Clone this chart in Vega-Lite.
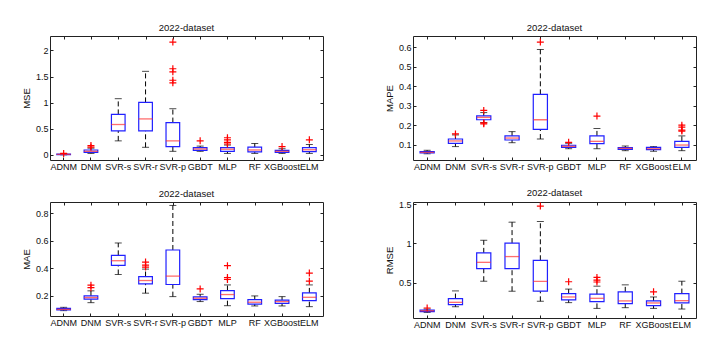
{
  "$schema": "https://vega.github.io/schema/vega-lite/v6.json",
  "background": "white",
  "padding": {"left": 20, "top": 22, "right": 5, "bottom": 5},
  "datasets": {
    "mse": [
      {"model": "ADNM", "lo": 0.003, "q1": 0.008, "med": 0.012, "q3": 0.018, "hi": 0.025},
      {"model": "DNM", "lo": 0.03, "q1": 0.05, "med": 0.07, "q3": 0.095, "hi": 0.13},
      {"model": "SVR-s", "lo": 0.27, "q1": 0.46, "med": 0.583, "q3": 0.776, "hi": 1.077},
      {"model": "SVR-r", "lo": 0.147, "q1": 0.46, "med": 0.69, "q3": 1.006, "hi": 1.6},
      {"model": "SVR-p", "lo": 0.07, "q1": 0.16, "med": 0.27, "q3": 0.62, "hi": 0.885},
      {"model": "GBDT", "lo": 0.07, "q1": 0.09, "med": 0.115, "q3": 0.14, "hi": 0.17},
      {"model": "MLP", "lo": 0.03, "q1": 0.07, "med": 0.11, "q3": 0.14, "hi": 0.19},
      {"model": "RF", "lo": 0.03, "q1": 0.06, "med": 0.096, "q3": 0.15, "hi": 0.22},
      {"model": "XGBoost", "lo": 0.03, "q1": 0.05, "med": 0.07, "q3": 0.09, "hi": 0.12},
      {"model": "ELM", "lo": 0.03, "q1": 0.064, "med": 0.1, "q3": 0.14, "hi": 0.2}
    ],
    "mse_o": [
      {"model": "ADNM", "v": 0.03},
      {"model": "DNM", "v": 0.15}, {"model": "DNM", "v": 0.18},
      {"model": "SVR-p", "v": 2.16}, {"model": "SVR-p", "v": 1.65}, {"model": "SVR-p", "v": 1.59}, {"model": "SVR-p", "v": 1.43}, {"model": "SVR-p", "v": 1.38},
      {"model": "GBDT", "v": 0.27},
      {"model": "MLP", "v": 0.33}, {"model": "MLP", "v": 0.29}, {"model": "MLP", "v": 0.24}, {"model": "MLP", "v": 0.21},
      {"model": "XGBoost", "v": 0.16},
      {"model": "ELM", "v": 0.29}
    ],
    "mape": [
      {"model": "ADNM", "lo": 0.053, "q1": 0.057, "med": 0.06, "q3": 0.064, "hi": 0.071},
      {"model": "DNM", "lo": 0.09, "q1": 0.107, "med": 0.119, "q3": 0.129, "hi": 0.15},
      {"model": "SVR-s", "lo": 0.214, "q1": 0.228, "med": 0.24, "q3": 0.248, "hi": 0.265},
      {"model": "SVR-r", "lo": 0.11, "q1": 0.124, "med": 0.134, "q3": 0.145, "hi": 0.167},
      {"model": "SVR-p", "lo": 0.129, "q1": 0.179, "med": 0.228, "q3": 0.359, "hi": 0.59},
      {"model": "GBDT", "lo": 0.079, "q1": 0.086, "med": 0.091, "q3": 0.097, "hi": 0.107},
      {"model": "MLP", "lo": 0.079, "q1": 0.105, "med": 0.117, "q3": 0.145, "hi": 0.183},
      {"model": "RF", "lo": 0.069, "q1": 0.076, "med": 0.081, "q3": 0.085, "hi": 0.093},
      {"model": "XGBoost", "lo": 0.066, "q1": 0.074, "med": 0.079, "q3": 0.086, "hi": 0.09},
      {"model": "ELM", "lo": 0.069, "q1": 0.086, "med": 0.098, "q3": 0.117, "hi": 0.145}
    ],
    "mape_o": [
      {"model": "DNM", "v": 0.155},
      {"model": "SVR-s", "v": 0.276}, {"model": "SVR-s", "v": 0.207}, {"model": "SVR-s", "v": 0.212},
      {"model": "SVR-p", "v": 0.628},
      {"model": "GBDT", "v": 0.112},
      {"model": "MLP", "v": 0.247},
      {"model": "ELM", "v": 0.2}, {"model": "ELM", "v": 0.19}, {"model": "ELM", "v": 0.175}, {"model": "ELM", "v": 0.17}
    ],
    "mae": [
      {"model": "ADNM", "lo": 0.093, "q1": 0.098, "med": 0.102, "q3": 0.11, "hi": 0.117},
      {"model": "DNM", "lo": 0.151, "q1": 0.176, "med": 0.188, "q3": 0.2, "hi": 0.237},
      {"model": "SVR-s", "lo": 0.356, "q1": 0.422, "med": 0.456, "q3": 0.495, "hi": 0.585},
      {"model": "SVR-r", "lo": 0.22, "q1": 0.288, "med": 0.312, "q3": 0.341, "hi": 0.395},
      {"model": "SVR-p", "lo": 0.195, "q1": 0.283, "med": 0.344, "q3": 0.534, "hi": 0.858},
      {"model": "GBDT", "lo": 0.159, "q1": 0.173, "med": 0.183, "q3": 0.193, "hi": 0.212},
      {"model": "MLP", "lo": 0.129, "q1": 0.18, "med": 0.21, "q3": 0.239, "hi": 0.28},
      {"model": "RF", "lo": 0.127, "q1": 0.141, "med": 0.154, "q3": 0.173, "hi": 0.2},
      {"model": "XGBoost", "lo": 0.127, "q1": 0.146, "med": 0.159, "q3": 0.17, "hi": 0.195},
      {"model": "ELM", "lo": 0.122, "q1": 0.166, "med": 0.19, "q3": 0.222, "hi": 0.28}
    ],
    "mae_o": [
      {"model": "DNM", "v": 0.278}, {"model": "DNM", "v": 0.26},
      {"model": "SVR-r", "v": 0.446}, {"model": "SVR-r", "v": 0.424}, {"model": "SVR-r", "v": 0.41},
      {"model": "GBDT", "v": 0.251},
      {"model": "MLP", "v": 0.42}, {"model": "MLP", "v": 0.334}, {"model": "MLP", "v": 0.32},
      {"model": "ELM", "v": 0.366}, {"model": "ELM", "v": 0.307}
    ],
    "rmse": [
      {"model": "ADNM", "lo": 0.124, "q1": 0.133, "med": 0.145, "q3": 0.154, "hi": 0.167},
      {"model": "DNM", "lo": 0.196, "q1": 0.222, "med": 0.252, "q3": 0.3, "hi": 0.397},
      {"model": "SVR-s", "lo": 0.52, "q1": 0.68, "med": 0.76, "q3": 0.88, "hi": 1.04},
      {"model": "SVR-r", "lo": 0.393, "q1": 0.68, "med": 0.833, "q3": 1.004, "hi": 1.27},
      {"model": "SVR-p", "lo": 0.265, "q1": 0.393, "med": 0.517, "q3": 0.786, "hi": 1.278},
      {"model": "GBDT", "lo": 0.248, "q1": 0.282, "med": 0.32, "q3": 0.363, "hi": 0.42},
      {"model": "MLP", "lo": 0.175, "q1": 0.26, "med": 0.303, "q3": 0.355, "hi": 0.457},
      {"model": "RF", "lo": 0.184, "q1": 0.235, "med": 0.27, "q3": 0.385, "hi": 0.474},
      {"model": "XGBoost", "lo": 0.175, "q1": 0.21, "med": 0.244, "q3": 0.27, "hi": 0.32},
      {"model": "ELM", "lo": 0.167, "q1": 0.244, "med": 0.273, "q3": 0.363, "hi": 0.52}
    ],
    "rmse_o": [
      {"model": "ADNM", "v": 0.18},
      {"model": "SVR-p", "v": 1.474},
      {"model": "GBDT", "v": 0.513},
      {"model": "MLP", "v": 0.568}, {"model": "MLP", "v": 0.534}, {"model": "MLP", "v": 0.51},
      {"model": "XGBoost", "v": 0.385}
    ]
  },
  "concat": [
    {
      "width": 273, "height": 124, "title": "2022-dataset",
      "data": {"name": "mse"},
      "resolve": {"scale": {"x": "independent", "y": "independent"}, "axis": {"x": "independent", "y": "independent"}},
      "layer": [
        {
          "encoding": {"x": {"field": "model", "type": "nominal", "sort": null, "title": null, "scale": {"domain": ["ADNM","DNM","SVR-s","SVR-r","SVR-p","GBDT","MLP","RF","XGBoost","ELM"], "paddingInner": 0, "paddingOuter": 0}, "axis": {"labelAngle": 0}}},
          "layer": [
            {"mark": {"type": "rule", "color": "black", "strokeDash": [5, 3]}, "encoding": {"y": {"field": "lo", "type": "quantitative", "scale": {"domain": [-0.096, 2.276], "nice": false, "zero": false}, "axis": {"title": "MSE", "values": [0, 0.5, 1, 1.5, 2], "format": "~g"}}, "y2": {"field": "q1"}}},
            {"mark": {"type": "rule", "color": "black", "strokeDash": [5, 3]}, "encoding": {"y": {"field": "q3", "type": "quantitative", "scale": {"domain": [-0.096, 2.276], "nice": false, "zero": false}, "axis": {"title": "MSE", "values": [0, 0.5, 1, 1.5, 2], "format": "~g"}}, "y2": {"field": "hi"}}},
            {"mark": {"type": "tick", "color": "black", "size": 7, "thickness": 1}, "encoding": {"y": {"field": "lo", "type": "quantitative", "scale": {"domain": [-0.096, 2.276], "nice": false, "zero": false}, "axis": {"title": "MSE", "values": [0, 0.5, 1, 1.5, 2], "format": "~g"}}}},
            {"mark": {"type": "tick", "color": "black", "size": 7, "thickness": 1}, "encoding": {"y": {"field": "hi", "type": "quantitative", "scale": {"domain": [-0.096, 2.276], "nice": false, "zero": false}, "axis": {"title": "MSE", "values": [0, 0.5, 1, 1.5, 2], "format": "~g"}}}},
            {"mark": {"type": "bar", "width": {"band": 0.5}, "fill": "white", "fillOpacity": 0, "stroke": "#2020ff", "strokeWidth": 1.2}, "encoding": {"y": {"field": "q1", "type": "quantitative", "scale": {"domain": [-0.096, 2.276], "nice": false, "zero": false}, "axis": {"title": "MSE", "values": [0, 0.5, 1, 1.5, 2], "format": "~g"}}, "y2": {"field": "q3"}}},
            {"mark": {"type": "tick", "color": "#ff3030", "size": 14, "thickness": 1.3}, "encoding": {"y": {"field": "med", "type": "quantitative", "scale": {"domain": [-0.096, 2.276], "nice": false, "zero": false}, "axis": {"title": "MSE", "values": [0, 0.5, 1, 1.5, 2], "format": "~g"}}}},
            {"data": {"name": "mse_o"}, "mark": {"type": "point", "shape": "M-1,0L1,0M0,-1L0,1", "size": 49, "filled": false, "stroke": "red", "strokeWidth": 1.2, "opacity": 1}, "encoding": {"y": {"field": "v", "type": "quantitative", "scale": {"domain": [-0.096, 2.276], "nice": false, "zero": false}, "axis": {"title": "MSE", "values": [0, 0.5, 1, 1.5, 2], "format": "~g"}}}}
          ]
        },
        {"mark": {"type": "point", "opacity": 0}, "encoding": {"x": {"field": "model", "type": "nominal", "sort": null, "scale": {"domain": ["ADNM","DNM","SVR-s","SVR-r","SVR-p","GBDT","MLP","RF","XGBoost","ELM"], "paddingInner": 0, "paddingOuter": 0}, "axis": {"orient": "top", "labels": false, "title": null}}, "y": {"field": "med", "type": "quantitative", "scale": {"domain": [-0.096, 2.276], "nice": false, "zero": false}, "axis": {"orient": "right", "labels": false, "title": null, "values": [0, 0.5, 1, 1.5, 2]}}}}
      ]
    },
    {
      "width": 283, "height": 124, "title": "2022-dataset",
      "data": {"name": "mape"},
      "resolve": {"scale": {"x": "independent", "y": "independent"}, "axis": {"x": "independent", "y": "independent"}},
      "layer": [
        {
          "encoding": {"x": {"field": "model", "type": "nominal", "sort": null, "title": null, "scale": {"domain": ["ADNM","DNM","SVR-s","SVR-r","SVR-p","GBDT","MLP","RF","XGBoost","ELM"], "paddingInner": 0, "paddingOuter": 0}, "axis": {"labelAngle": 0}}},
          "layer": [
            {"mark": {"type": "rule", "color": "black", "strokeDash": [5, 3]}, "encoding": {"y": {"field": "lo", "type": "quantitative", "scale": {"domain": [0.021, 0.659], "nice": false, "zero": false}, "axis": {"title": "MAPE", "values": [0.1, 0.2, 0.3, 0.4, 0.5, 0.6], "format": "~g"}}, "y2": {"field": "q1"}}},
            {"mark": {"type": "rule", "color": "black", "strokeDash": [5, 3]}, "encoding": {"y": {"field": "q3", "type": "quantitative", "scale": {"domain": [0.021, 0.659], "nice": false, "zero": false}, "axis": {"title": "MAPE", "values": [0.1, 0.2, 0.3, 0.4, 0.5, 0.6], "format": "~g"}}, "y2": {"field": "hi"}}},
            {"mark": {"type": "tick", "color": "black", "size": 7, "thickness": 1}, "encoding": {"y": {"field": "lo", "type": "quantitative", "scale": {"domain": [0.021, 0.659], "nice": false, "zero": false}, "axis": {"title": "MAPE", "values": [0.1, 0.2, 0.3, 0.4, 0.5, 0.6], "format": "~g"}}}},
            {"mark": {"type": "tick", "color": "black", "size": 7, "thickness": 1}, "encoding": {"y": {"field": "hi", "type": "quantitative", "scale": {"domain": [0.021, 0.659], "nice": false, "zero": false}, "axis": {"title": "MAPE", "values": [0.1, 0.2, 0.3, 0.4, 0.5, 0.6], "format": "~g"}}}},
            {"mark": {"type": "bar", "width": {"band": 0.5}, "fill": "white", "fillOpacity": 0, "stroke": "#2020ff", "strokeWidth": 1.2}, "encoding": {"y": {"field": "q1", "type": "quantitative", "scale": {"domain": [0.021, 0.659], "nice": false, "zero": false}, "axis": {"title": "MAPE", "values": [0.1, 0.2, 0.3, 0.4, 0.5, 0.6], "format": "~g"}}, "y2": {"field": "q3"}}},
            {"mark": {"type": "tick", "color": "#ff3030", "size": 14, "thickness": 1.3}, "encoding": {"y": {"field": "med", "type": "quantitative", "scale": {"domain": [0.021, 0.659], "nice": false, "zero": false}, "axis": {"title": "MAPE", "values": [0.1, 0.2, 0.3, 0.4, 0.5, 0.6], "format": "~g"}}}},
            {"data": {"name": "mape_o"}, "mark": {"type": "point", "shape": "M-1,0L1,0M0,-1L0,1", "size": 49, "filled": false, "stroke": "red", "strokeWidth": 1.2, "opacity": 1}, "encoding": {"y": {"field": "v", "type": "quantitative", "scale": {"domain": [0.021, 0.659], "nice": false, "zero": false}, "axis": {"title": "MAPE", "values": [0.1, 0.2, 0.3, 0.4, 0.5, 0.6], "format": "~g"}}}}
          ]
        },
        {"mark": {"type": "point", "opacity": 0}, "encoding": {"x": {"field": "model", "type": "nominal", "sort": null, "scale": {"domain": ["ADNM","DNM","SVR-s","SVR-r","SVR-p","GBDT","MLP","RF","XGBoost","ELM"], "paddingInner": 0, "paddingOuter": 0}, "axis": {"orient": "top", "labels": false, "title": null}}, "y": {"field": "med", "type": "quantitative", "scale": {"domain": [0.021, 0.659], "nice": false, "zero": false}, "axis": {"orient": "right", "labels": false, "title": null, "values": [0.1, 0.2, 0.3, 0.4, 0.5, 0.6]}}}}
      ]
    },
    {
      "width": 273, "height": 114, "title": "2022-dataset",
      "data": {"name": "mae"},
      "resolve": {"scale": {"x": "independent", "y": "independent"}, "axis": {"x": "independent", "y": "independent"}},
      "layer": [
        {
          "encoding": {"x": {"field": "model", "type": "nominal", "sort": null, "title": null, "scale": {"domain": ["ADNM","DNM","SVR-s","SVR-r","SVR-p","GBDT","MLP","RF","XGBoost","ELM"], "paddingInner": 0, "paddingOuter": 0}, "axis": {"labelAngle": 0}}},
          "layer": [
            {"mark": {"type": "rule", "color": "black", "strokeDash": [5, 3]}, "encoding": {"y": {"field": "lo", "type": "quantitative", "scale": {"domain": [0.054, 0.883], "nice": false, "zero": false}, "axis": {"title": "MAE", "values": [0.2, 0.4, 0.6, 0.8], "format": "~g"}}, "y2": {"field": "q1"}}},
            {"mark": {"type": "rule", "color": "black", "strokeDash": [5, 3]}, "encoding": {"y": {"field": "q3", "type": "quantitative", "scale": {"domain": [0.054, 0.883], "nice": false, "zero": false}, "axis": {"title": "MAE", "values": [0.2, 0.4, 0.6, 0.8], "format": "~g"}}, "y2": {"field": "hi"}}},
            {"mark": {"type": "tick", "color": "black", "size": 7, "thickness": 1}, "encoding": {"y": {"field": "lo", "type": "quantitative", "scale": {"domain": [0.054, 0.883], "nice": false, "zero": false}, "axis": {"title": "MAE", "values": [0.2, 0.4, 0.6, 0.8], "format": "~g"}}}},
            {"mark": {"type": "tick", "color": "black", "size": 7, "thickness": 1}, "encoding": {"y": {"field": "hi", "type": "quantitative", "scale": {"domain": [0.054, 0.883], "nice": false, "zero": false}, "axis": {"title": "MAE", "values": [0.2, 0.4, 0.6, 0.8], "format": "~g"}}}},
            {"mark": {"type": "bar", "width": {"band": 0.5}, "fill": "white", "fillOpacity": 0, "stroke": "#2020ff", "strokeWidth": 1.2}, "encoding": {"y": {"field": "q1", "type": "quantitative", "scale": {"domain": [0.054, 0.883], "nice": false, "zero": false}, "axis": {"title": "MAE", "values": [0.2, 0.4, 0.6, 0.8], "format": "~g"}}, "y2": {"field": "q3"}}},
            {"mark": {"type": "tick", "color": "#ff3030", "size": 14, "thickness": 1.3}, "encoding": {"y": {"field": "med", "type": "quantitative", "scale": {"domain": [0.054, 0.883], "nice": false, "zero": false}, "axis": {"title": "MAE", "values": [0.2, 0.4, 0.6, 0.8], "format": "~g"}}}},
            {"data": {"name": "mae_o"}, "mark": {"type": "point", "shape": "M-1,0L1,0M0,-1L0,1", "size": 49, "filled": false, "stroke": "red", "strokeWidth": 1.2, "opacity": 1}, "encoding": {"y": {"field": "v", "type": "quantitative", "scale": {"domain": [0.054, 0.883], "nice": false, "zero": false}, "axis": {"title": "MAE", "values": [0.2, 0.4, 0.6, 0.8], "format": "~g"}}}}
          ]
        },
        {"mark": {"type": "point", "opacity": 0}, "encoding": {"x": {"field": "model", "type": "nominal", "sort": null, "scale": {"domain": ["ADNM","DNM","SVR-s","SVR-r","SVR-p","GBDT","MLP","RF","XGBoost","ELM"], "paddingInner": 0, "paddingOuter": 0}, "axis": {"orient": "top", "labels": false, "title": null}}, "y": {"field": "med", "type": "quantitative", "scale": {"domain": [0.054, 0.883], "nice": false, "zero": false}, "axis": {"orient": "right", "labels": false, "title": null, "values": [0.2, 0.4, 0.6, 0.8]}}}}
      ]
    },
    {
      "width": 283, "height": 116, "title": "2022-dataset",
      "data": {"name": "rmse"},
      "resolve": {"scale": {"x": "independent", "y": "independent"}, "axis": {"x": "independent", "y": "independent"}},
      "layer": [
        {
          "encoding": {"x": {"field": "model", "type": "nominal", "sort": null, "title": null, "scale": {"domain": ["ADNM","DNM","SVR-s","SVR-r","SVR-p","GBDT","MLP","RF","XGBoost","ELM"], "paddingInner": 0, "paddingOuter": 0}, "axis": {"labelAngle": 0}}},
          "layer": [
            {"mark": {"type": "rule", "color": "black", "strokeDash": [5, 3]}, "encoding": {"y": {"field": "lo", "type": "quantitative", "scale": {"domain": [0.053, 1.526], "nice": false, "zero": false}, "axis": {"title": "RMSE", "values": [0.5, 1, 1.5], "format": "~g"}}, "y2": {"field": "q1"}}},
            {"mark": {"type": "rule", "color": "black", "strokeDash": [5, 3]}, "encoding": {"y": {"field": "q3", "type": "quantitative", "scale": {"domain": [0.053, 1.526], "nice": false, "zero": false}, "axis": {"title": "RMSE", "values": [0.5, 1, 1.5], "format": "~g"}}, "y2": {"field": "hi"}}},
            {"mark": {"type": "tick", "color": "black", "size": 7, "thickness": 1}, "encoding": {"y": {"field": "lo", "type": "quantitative", "scale": {"domain": [0.053, 1.526], "nice": false, "zero": false}, "axis": {"title": "RMSE", "values": [0.5, 1, 1.5], "format": "~g"}}}},
            {"mark": {"type": "tick", "color": "black", "size": 7, "thickness": 1}, "encoding": {"y": {"field": "hi", "type": "quantitative", "scale": {"domain": [0.053, 1.526], "nice": false, "zero": false}, "axis": {"title": "RMSE", "values": [0.5, 1, 1.5], "format": "~g"}}}},
            {"mark": {"type": "bar", "width": {"band": 0.5}, "fill": "white", "fillOpacity": 0, "stroke": "#2020ff", "strokeWidth": 1.2}, "encoding": {"y": {"field": "q1", "type": "quantitative", "scale": {"domain": [0.053, 1.526], "nice": false, "zero": false}, "axis": {"title": "RMSE", "values": [0.5, 1, 1.5], "format": "~g"}}, "y2": {"field": "q3"}}},
            {"mark": {"type": "tick", "color": "#ff3030", "size": 14, "thickness": 1.3}, "encoding": {"y": {"field": "med", "type": "quantitative", "scale": {"domain": [0.053, 1.526], "nice": false, "zero": false}, "axis": {"title": "RMSE", "values": [0.5, 1, 1.5], "format": "~g"}}}},
            {"data": {"name": "rmse_o"}, "mark": {"type": "point", "shape": "M-1,0L1,0M0,-1L0,1", "size": 49, "filled": false, "stroke": "red", "strokeWidth": 1.2, "opacity": 1}, "encoding": {"y": {"field": "v", "type": "quantitative", "scale": {"domain": [0.053, 1.526], "nice": false, "zero": false}, "axis": {"title": "RMSE", "values": [0.5, 1, 1.5], "format": "~g"}}}}
          ]
        },
        {"mark": {"type": "point", "opacity": 0}, "encoding": {"x": {"field": "model", "type": "nominal", "sort": null, "scale": {"domain": ["ADNM","DNM","SVR-s","SVR-r","SVR-p","GBDT","MLP","RF","XGBoost","ELM"], "paddingInner": 0, "paddingOuter": 0}, "axis": {"orient": "top", "labels": false, "title": null}}, "y": {"field": "med", "type": "quantitative", "scale": {"domain": [0.053, 1.526], "nice": false, "zero": false}, "axis": {"orient": "right", "labels": false, "title": null, "values": [0.5, 1, 1.5]}}}}
      ]
    }
  ],
  "columns": 2,
  "spacing": {"row": 15, "column": 59},
  "config": {
    "font": "Liberation Sans",
    "view": {"stroke": "#222222", "strokeWidth": 1},
    "axis": {"labelFont": "Liberation Sans", "titleFont": "Liberation Sans", "labelFontSize": 9, "titleFontSize": 9.5, "titleFontWeight": "normal", "grid": false, "domain": false, "tickColor": "#222222", "tickSize": -3, "labelPadding": 5, "labelColor": "#111111", "titleColor": "#111111", "titlePadding": 4, "labelOverlap": false, "labelFlush": false},
    "title": {"font": "Liberation Sans", "fontSize": 9.5, "fontWeight": "normal", "offset": 3, "color": "#111111"}
  }
}
